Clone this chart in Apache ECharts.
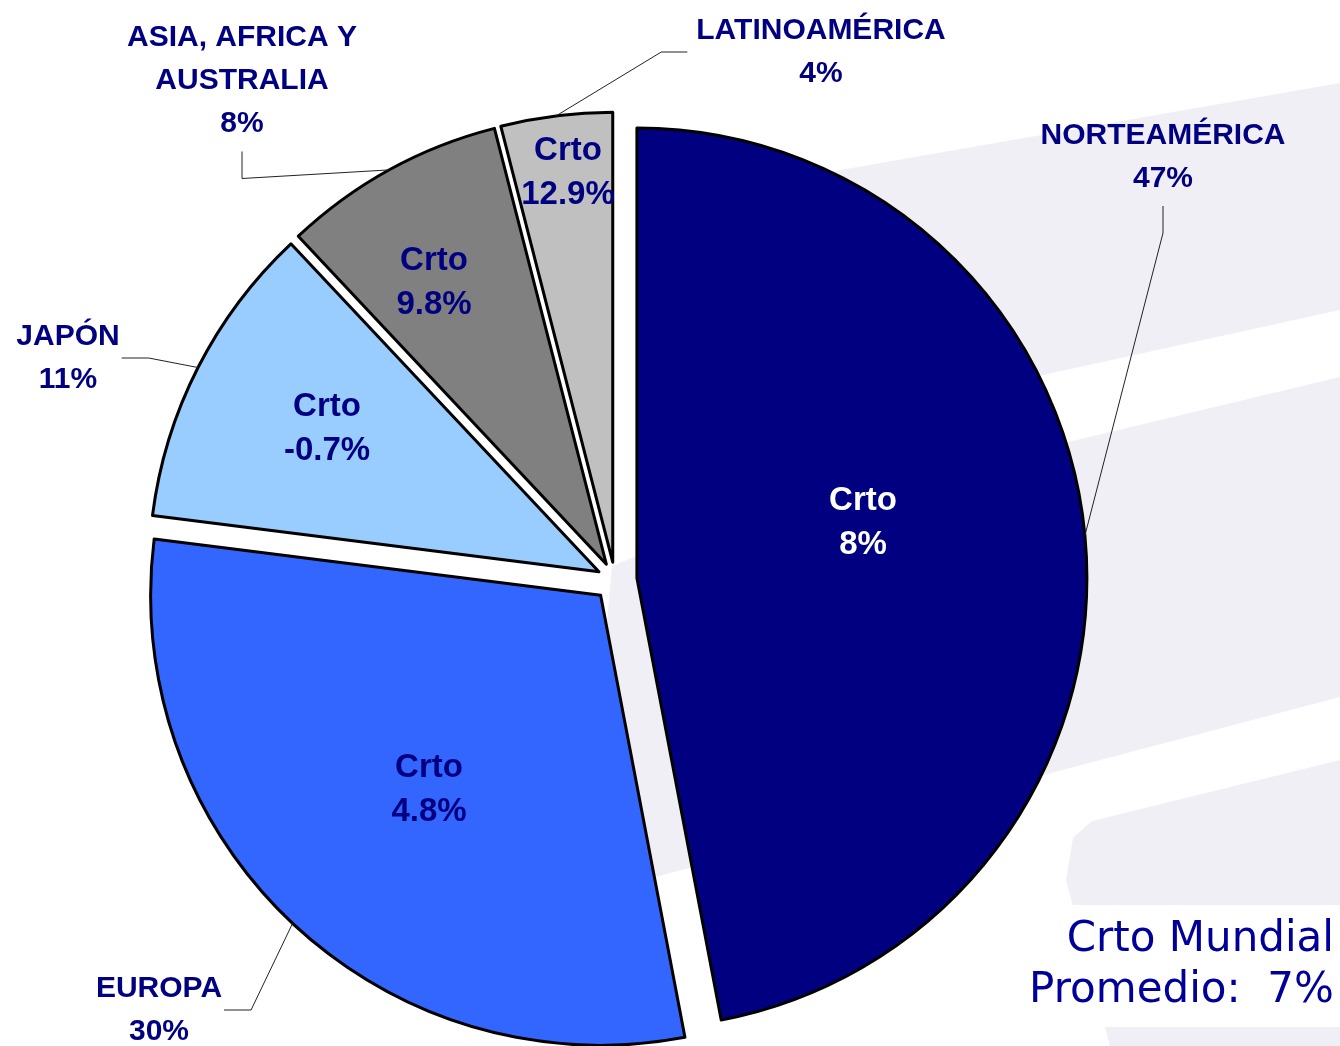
<!DOCTYPE html>
<html>
<head>
<meta charset="utf-8">
<script src="https://cdn.jsdelivr.net/npm/echarts@6/dist/echarts.min.js"></script>
<style>
html, body { margin: 0; padding: 0; background: #fff; }
#chart { width: 1340px; height: 1046px; }
</style>
</head>
<body>
<div id="chart"></div>
<script>
// datos
var regiones = ['NORTEAMÉRICA', 'EUROPA', 'JAPÓN', 'ASIA, AFRICA Y\nAUSTRALIA', 'LATINOAMÉRICA'];
var participacion = [47, 30, 11, 8, 4];
var crecimiento = [8, 4.8, -0.7, 9.8, 12.9];
var crtoMundial = 7;

var colores = ['#000080', '#3366ff', '#99ccff', '#808080', '#c0c0c0'];
var coloresTexto = ['#ffffff', '#000080', '#000080', '#000080', '#000080'];

// disposición
var centro = [615, 580];
var radio = 450;
var separacion = [22, 21, 18, 18, 18];
var posInterior = [[863, 523], [429, 790], [327, 429], [434, 283], [568, 173]];
var posExterior = [[1163, 157], [159, 1010], [68, 358], [242, 81], [821, 52]];
var ladoGuia = ['bottom', 'right', 'right', 'bottom', 'left'];
var fuente = '"Liberation Sans", Arial, sans-serif';

var chart = echarts.init(document.getElementById('chart'));

var total = participacion.reduce(function(a, b) { return a + b; }, 0);
var acum = 0;
var medios = participacion.map(function(v) {
    var m = (90 - 360 * (acum + v / 2) / total) * Math.PI / 180;
    acum += v;
    return m;
});

var series = [];

// una serie por porción, desplazada sobre su bisectriz (pastel separado)
participacion.forEach(function(val, k) {
    var s = separacion[k];
    series.push({
        type: 'pie',
        name: regiones[k],
        center: [centro[0] + s * Math.cos(medios[k]), centro[1] - s * Math.sin(medios[k])],
        radius: radio,
        startAngle: 90,
        clockwise: true,
        silent: true,
        animation: false,
        avoidLabelOverlap: false,
        emphasis: { disabled: true },
        z: 3,
        data: participacion.map(function(v, i) {
            if (i !== k) {
                return {
                    value: v, name: regiones[i],
                    itemStyle: { color: 'rgba(0,0,0,0)', borderWidth: 0 },
                    label: { show: false }, labelLine: { show: false }
                };
            }
            return {
                value: v, name: regiones[i],
                itemStyle: { color: colores[i], borderColor: '#000', borderWidth: 3 },
                label: {
                    show: true, position: 'inside',
                    formatter: 'Crto\n' + crecimiento[i] + '%',
                    color: coloresTexto[i], fontSize: 33, fontWeight: 'bold',
                    fontFamily: fuente, lineHeight: 44
                },
                labelLine: { show: false }
            };
        }),
        labelLayout: function(p) {
            var q = posInterior[p.dataIndex];
            return { x: q[0], y: q[1], align: 'center', verticalAlign: 'middle' };
        }
    });
});

// serie transparente para las etiquetas exteriores
series.push({
    type: 'pie',
    name: 'etiquetas',
    center: centro,
    radius: radio,
    startAngle: 90,
    clockwise: true,
    silent: true,
    animation: false,
    avoidLabelOverlap: false,
    emphasis: { disabled: true },
    z: 4,
    itemStyle: { color: 'rgba(0,0,0,0)', borderWidth: 0 },
    label: {
        show: true, position: 'outside',
        formatter: function(p) { return p.name + '\n' + p.value + '%'; },
        color: '#000080', fontSize: 30, fontWeight: 'bold',
        fontFamily: fuente, lineHeight: 43
    },
    labelLine: { show: true, length: 20, length2: 20, lineStyle: { color: '#222', width: 1 } },
    data: participacion.map(function(v, i) { return { value: v, name: regiones[i] }; }),
    labelLayout: function(p) {
        var i = p.dataIndex, q = posExterior[i];
        var w = p.labelRect.width, h = p.labelRect.height;
        var m = medios[i], s = separacion[i];
        var base = (p.labelLinePoints && p.labelLinePoints[0]) ||
            [centro[0] + radio * Math.cos(m), centro[1] - radio * Math.sin(m)];
        var ancla = [base[0] + s * Math.cos(m), base[1] - s * Math.sin(m)];
        var fin, codo;
        if (ladoGuia[i] === 'bottom') {
            fin = [q[0], q[1] + h / 2 + 6];
            codo = [q[0], fin[1] + 27];
        } else if (ladoGuia[i] === 'right') {
            fin = [q[0] + w / 2 + 2, q[1]];
            codo = [fin[0] + 27, q[1]];
        } else {
            fin = [q[0] - w / 2 - 9, q[1]];
            codo = [fin[0] - 26, q[1]];
        }
        return {
            x: q[0], y: q[1], align: 'center', verticalAlign: 'middle',
            labelLinePoints: [ancla, codo, fin]
        };
    }
});

var lila = '#f1eff6';

option = {
    backgroundColor: '#ffffff',
    animation: false,
    graphic: [
        { type: 'polygon', z: -10, silent: true,
          shape: { points: [[760, 184], [1340, 83], [1340, 310], [760, 437]] },
          style: { fill: lila } },
        { type: 'polygon', z: -10, silent: true,
          shape: { points: [[1340, 377], [1340, 697], [625, 885], [600, 700], [612, 566], [700, 530]] },
          style: { fill: lila } },
        { type: 'polygon', z: -10, silent: true,
          shape: { points: [[1340, 760], [1092, 821], [1073, 838], [1066, 880], [1110, 1046], [1340, 1046]] },
          style: { fill: lila } },
        { type: 'rect', z: -5, silent: true,
          shape: { x: 1040, y: 905, width: 300, height: 122 },
          style: { fill: '#ffffff' } },
        { type: 'text', z: 50, silent: true, x: 1334, y: 915,
          style: {
              text: 'Crto Mundial\nPromedio:  ' + crtoMundial + '%',
              fill: '#000099', fontSize: 42, fontFamily: '"DejaVu Sans", Verdana, sans-serif',
              lineHeight: 51, align: 'right', textAlign: 'right', verticalAlign: 'top', textVerticalAlign: 'top'
          } }
    ],
    series: series
};

console.log(option);
chart.setOption(option);
function resize() {
    chart.resize();
}
window.onresize = resize;
</script>
</body>
</html>
